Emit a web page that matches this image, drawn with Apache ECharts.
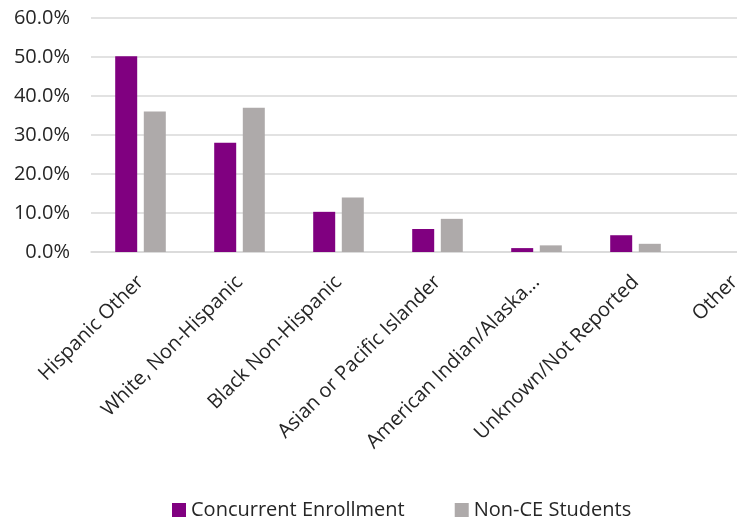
<!DOCTYPE html>
<html>
<head>
<meta charset="utf-8">
<script src="https://cdn.jsdelivr.net/npm/echarts@6/dist/echarts.min.js"></script>
<style>
html,body{margin:0;padding:0;background:#fff;overflow:hidden;}
#chart{width:790px;height:527px;}
</style>
</head>
<body>
<div id="chart"></div>
<script>
const categories = ["Hispanic Other", "White, Non-Hispanic", "Black Non-Hispanic", "Asian or Pacific Islander", "American Indian/Alaska...", "Unknown/Not Reported", "Other"];
const seriesNames = ["Concurrent Enrollment", "Non-CE Students"];
const concurrentEnrollment = [50.2, 28.0, 10.3, 5.9, 1.0, 4.3, 0];
const nonCEStudents = [36.0, 37.0, 14.0, 8.5, 1.7, 2.1, 0];
const colors = ["#800080", "#AEAAAA"];

const FONT = "Open Sans";
const chart = echarts.init(document.getElementById('chart'), null, {renderer: 'canvas'});
chart.setOption({
  animation: false,
  textStyle: {fontFamily: FONT},
  legend: {
    bottom: 2,
    left: 167,
    itemWidth: 14,
    itemHeight: 14,
    itemGap: 50,
    icon: 'rect',
    textStyle: {fontFamily: FONT, fontSize: 20, color: '#262626'},
    data: seriesNames
  },
  grid: {left: 91, top: 18, width: 693, height: 234, containLabel: false},
  xAxis: {
    type: 'category',
    data: categories,
    axisLine: {show: true, lineStyle: {color: '#D9D9D9', width: 1.5}},
    axisTick: {show: false},
    axisLabel: {rotate: 45, interval: 0, fontFamily: FONT, fontSize: 20, color: '#262626', margin: 27}
  },
  yAxis: {
    type: 'value',
    min: 0, max: 60, interval: 10,
    axisLine: {show: false},
    axisTick: {show: false},
    splitLine: {lineStyle: {color: '#D9D9D9', width: 1.5}},
    axisLabel: {fontFamily: FONT, fontSize: 20, color: '#262626', margin: 21,
      formatter: v => v.toFixed(1) + '%'}
  },
  series: [
    {name: seriesNames[0], type: 'bar', data: concurrentEnrollment, barWidth: 22, barGap: '30%',
      itemStyle: {color: colors[0]}},
    {name: seriesNames[1], type: 'bar', data: nonCEStudents, barWidth: 22, barGap: '30%',
      itemStyle: {color: colors[1]}}
  ]
});
</script>
</body>
</html>
